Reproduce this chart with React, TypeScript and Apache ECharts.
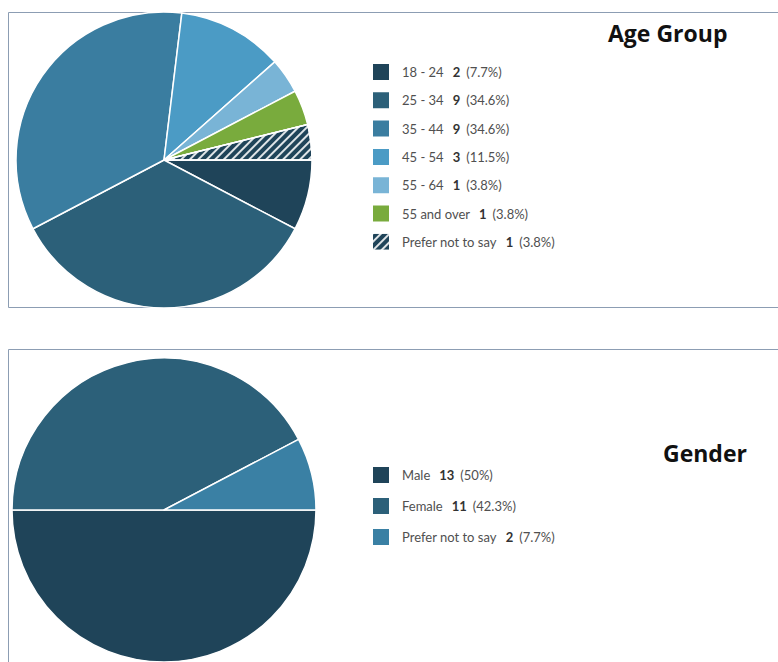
import React, { useEffect, useRef } from "react";
import * as echarts from "echarts";

// Age group breakdown
const ageNames = ["18 - 24", "25 - 34", "35 - 44", "45 - 54", "55 - 64", "55 and over", "Prefer not to say"];
const ageCounts = [2, 9, 9, 3, 1, 1, 1];
const ageColors = ["#1f4459", "#2c6079", "#3a7da0", "#4b9bc5", "#79b4d6", "#79ab3d", "#1f4459"];

// Gender breakdown
const genderNames = ["Male", "Female", "Prefer not to say"];
const genderCounts = [13, 11, 2];
const genderColors = ["#1f4459", "#2c6079", "#3a80a4"];

const FONT = "Lato, 'Noto Sans', sans-serif";
const TITLE_FONT = "'Open Sans', 'Noto Sans', sans-serif";

function pct(v: number, total: number): string {
  const p = ((v / total) * 100).toFixed(1);
  return p.endsWith(".0") ? p.slice(0, -2) : p;
}

// Gender names get a trailing marker so the two legends stay independent
const GENDER_SUFFIX = "\u200b";

export default function App() {
  const ref = useRef<HTMLDivElement>(null);

  useEffect(() => {
    if (!ref.current) return;
    const chart = echarts.init(ref.current, undefined, { renderer: "svg" });

    const ageTotal = ageCounts.reduce((a, b) => a + b, 0);
    const genderTotal = genderCounts.reduce((a, b) => a + b, 0);

    const ageData = ageNames.map((n, i) => {
      const item: any = {
        name: n,
        value: ageCounts[i],
        itemStyle: { color: ageColors[i] },
      };
      if (n === "Prefer not to say") {
        item.itemStyle.decal = {
          symbol: "rect",
          color: "rgba(255,255,255,0.85)",
          dashArrayX: [1, 0],
          dashArrayY: [2, 4],
          rotation: -Math.PI / 4,
          symbolSize: 1,
        };
      }
      return item;
    });

    const genderData = genderNames.map((n, i) => ({
      name: n + GENDER_SUFFIX,
      value: genderCounts[i],
      itemStyle: { color: genderColors[i] },
    }));

    const rich = {
      n: { fontFamily: FONT, fontSize: 13, lineHeight: 18, color: "#505050", padding: [0, 9, 0, 7] },
      c: { fontFamily: FONT, fontSize: 13, lineHeight: 18, color: "#333", fontWeight: "bold" as const, padding: [0, 6, 0, 0] },
      p: { fontFamily: FONT, fontSize: 13, lineHeight: 18, color: "#505050" },
    };

    const fmt = (names: string[], counts: number[], total: number, suffix: string) => (name: string) => {
      const i = names.findIndex((n) => n + suffix === name);
      return `{n|${names[i]}}{c|${counts[i]}}{p|(${pct(counts[i], total)}%)}`;
    };

    chart.setOption({
      animation: false,
      backgroundColor: "#ffffff",
      title: [
        {
          text: "Age Group",
          left: 608,
          top: 21,
          padding: 0,
          textStyle: { fontFamily: TITLE_FONT, fontSize: 23, fontWeight: "bold", color: "#111" },
        },
        {
          text: "Gender",
          left: 663,
          top: 441,
          padding: 0,
          textStyle: { fontFamily: TITLE_FONT, fontSize: 23, fontWeight: "bold", color: "#111" },
        },
      ],
      graphic: [
        {
          type: "rect",
          shape: { x: 8.5, y: 12.5, width: 800, height: 295 },
          style: { fill: "none", stroke: "#8c9db3", lineWidth: 1 },
          z: 0,
        },
        {
          type: "rect",
          shape: { x: 8.5, y: 349.5, width: 800, height: 400 },
          style: { fill: "none", stroke: "#8c9db3", lineWidth: 1 },
          z: 0,
        },
      ],
      legend: [
        {
          orient: "vertical",
          left: 371,
          top: 62,
          padding: 0,
          itemWidth: 18,
          itemHeight: 18,
          itemGap: 8.3,
          icon: "rect",
          data: ageNames,
          formatter: fmt(ageNames, ageCounts, ageTotal, ""),
          textStyle: { rich },
          selectedMode: false,
        },
        {
          orient: "vertical",
          left: 371,
          top: 465,
          padding: 0,
          itemWidth: 18,
          itemHeight: 18,
          itemGap: 11,
          icon: "rect",
          data: genderNames.map((n) => n + GENDER_SUFFIX),
          formatter: fmt(genderNames, genderCounts, genderTotal, GENDER_SUFFIX),
          textStyle: { rich },
          selectedMode: false,
        },
      ],
      series: [
        {
          type: "pie",
          center: [164, 160],
          radius: [0, 148],
          startAngle: 0,
          clockwise: true,
          label: { show: false },
          labelLine: { show: false },
          emphasis: { disabled: true },
          itemStyle: { borderColor: "#ffffff", borderWidth: 1.5 },
          data: ageData,
        },
        {
          type: "pie",
          center: [164, 510],
          radius: [0, 152],
          startAngle: 0,
          clockwise: true,
          label: { show: false },
          labelLine: { show: false },
          emphasis: { disabled: true },
          itemStyle: { borderColor: "#ffffff", borderWidth: 1.5 },
          data: genderData,
        },
      ],
    });

    return () => chart.dispose();
  }, []);

  return (
    <div
      ref={ref}
      style={{ position: "fixed", left: 0, top: 0, width: 778, height: 662 }}
    />
  );
}
